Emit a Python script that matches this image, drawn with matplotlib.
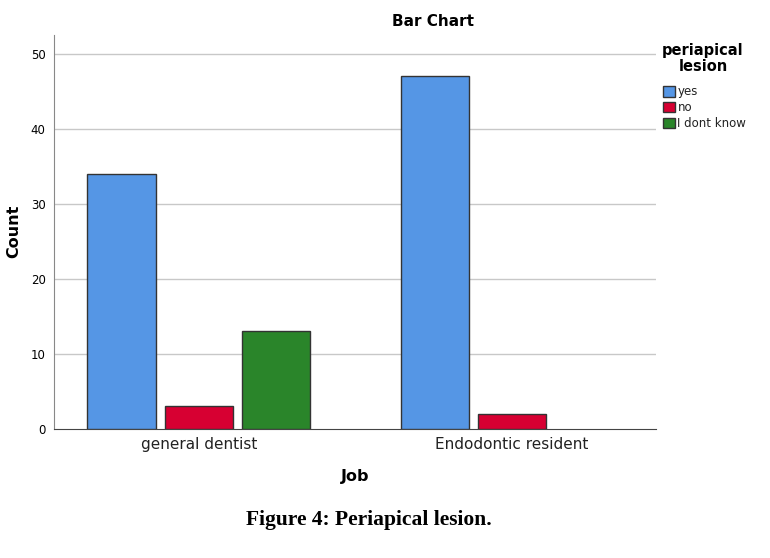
import matplotlib.pyplot as plt
import numpy as np
from matplotlib.patches import Patch

jobs = ["general dentist", "Endodontic resident"]
series = ["yes", "no", "I dont know"]
yes_counts = [34, 47]
no_counts = [3, 2]
idk_counts = [13, 0]
colors = ["#5596e5", "#d70032", "#2a852a"]

fig = plt.figure(figsize=(7.7, 5.58), dpi=100)
ax = fig.add_axes([54 / 770, 1 - 429 / 558, 602 / 770, 394 / 558])

x = np.arange(len(jobs))
w = 0.22
step = 0.246
for i, (vals, c) in enumerate(zip([yes_counts, no_counts, idk_counts], colors)):
    for xi, v in zip(x, vals):
        if v > 0:
            ax.bar(xi + (i - 1) * step, v, width=w, color=c,
                   edgecolor="#333333", linewidth=1, zorder=3)

ax.set_xlim(-0.463, 1.46)
ax.set_ylim(0, 52.5)
ax.set_yticks([0, 10, 20, 30, 40, 50])
for yv in [10, 20, 30, 40, 50]:
    ax.axhline(yv, color="#c8c8c8", linewidth=1, zorder=1)
ax.set_xticks(x)
ax.set_xticklabels(jobs, fontsize=11, color="#222222")
ax.tick_params(axis="x", length=0, pad=6)
ax.tick_params(axis="y", length=0, labelsize=8.5, pad=6)
for s in ["top", "right"]:
    ax.spines[s].set_visible(False)
ax.spines["left"].set_color("#888888")
ax.spines["bottom"].set_color("#444444")

fig.text(14 / 770, 1 - 231 / 558, "Count", rotation=90, ha="center", va="center",
         fontsize=11.5, fontweight="bold")
fig.text(355 / 770, 1 - 477 / 558, "Job", ha="center", va="center",
         fontsize=11.5, fontweight="bold")
fig.text(433 / 770, 1 - 22 / 558, "Bar Chart", ha="center", va="center",
         fontsize=11, fontweight="bold")

# legend: title drawn separately so it is centred above the entries
fig.text(703 / 770, 1 - 58.5 / 558, "periapical\nlesion", ha="center", va="center",
         multialignment="center", fontsize=10.5, fontweight="bold", linespacing=1.05)
handles = [Patch(facecolor=c, edgecolor="#333333", label=s) for s, c in zip(series, colors)]
leg = fig.legend(handles=handles, loc="upper left", bbox_to_anchor=(655 / 770, 1 - 77 / 558),
                 frameon=False, fontsize=8.5, labelcolor="#222222",
                 handlelength=1.0, handleheight=1.0, handletextpad=0.2,
                 labelspacing=0.25, borderpad=0.2)

fig.text(369 / 770, 1 - 520 / 558, "Figure 4: Periapical lesion.", ha="center", va="center",
         fontsize=15.5, fontweight="bold", family="Liberation Serif")

fig.savefig("out.png", dpi=100)
